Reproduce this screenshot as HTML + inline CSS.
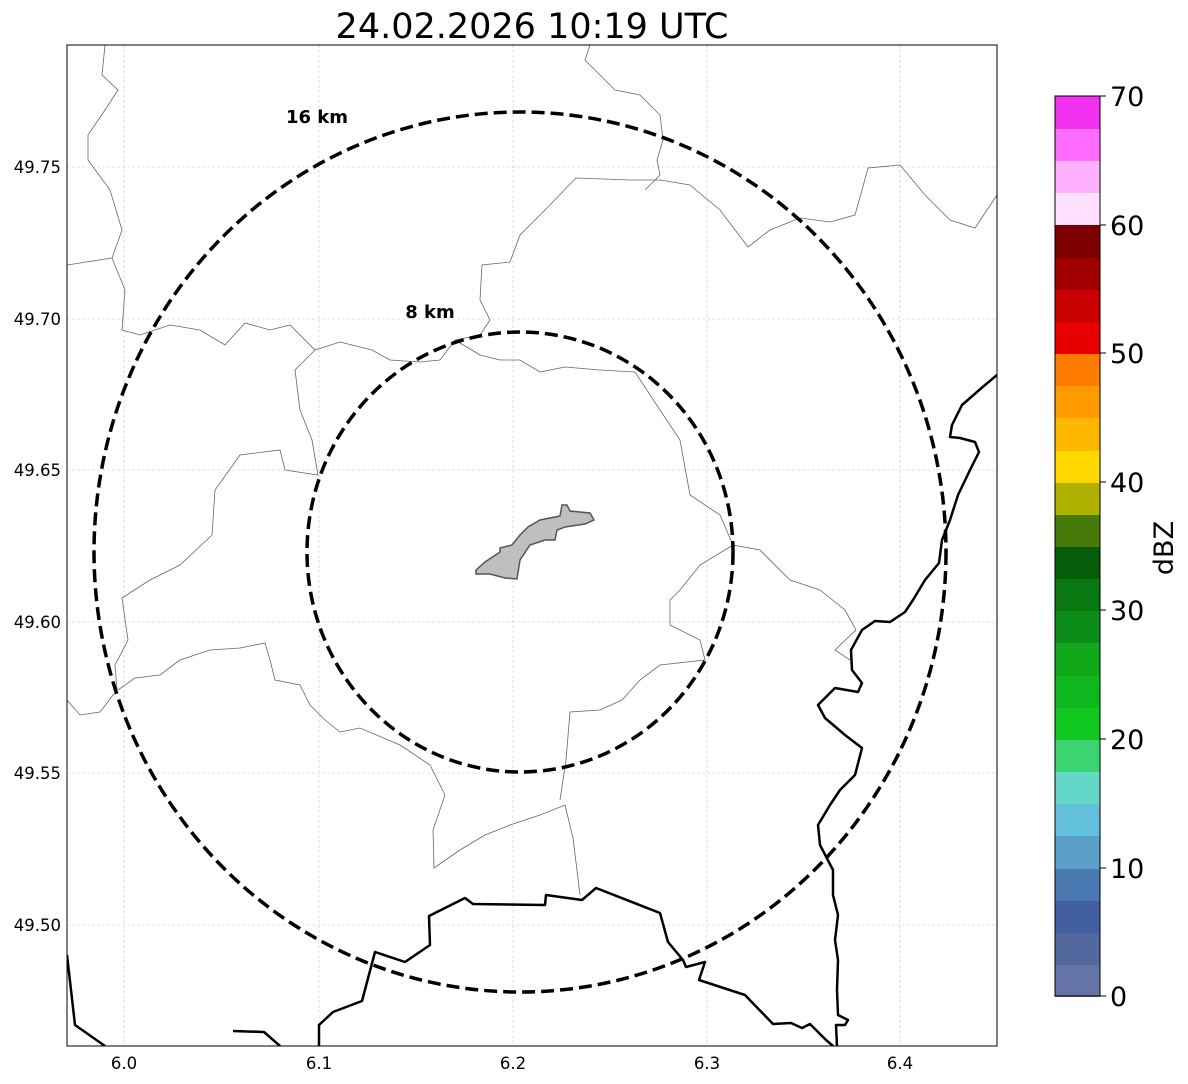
<!DOCTYPE html><html><head><meta charset="utf-8"><style>body{margin:0;background:#fff}svg{display:block}</style></head><body>
<svg width="1188" height="1084" xmlns="http://www.w3.org/2000/svg" font-family="DejaVu Sans, Liberation Sans, sans-serif">
<rect width="1188" height="1084" fill="#fff"/>
<text x="532" y="38" font-size="35" text-anchor="middle">24.02.2026 10:19 UTC</text>
<defs><clipPath id="c"><rect x="67" y="45" width="930" height="1001"/></clipPath></defs>
<g stroke="#c8c8c8" stroke-width="0.6" stroke-dasharray="3,2">
<line x1="124" y1="45" x2="124" y2="1046"/><line x1="319" y1="45" x2="319" y2="1046"/><line x1="513" y1="45" x2="513" y2="1046"/><line x1="707" y1="45" x2="707" y2="1046"/><line x1="900" y1="45" x2="900" y2="1046"/>
<line x1="67" y1="167" x2="997" y2="167"/><line x1="67" y1="319" x2="997" y2="319"/><line x1="67" y1="470" x2="997" y2="470"/><line x1="67" y1="622" x2="997" y2="622"/><line x1="67" y1="773" x2="997" y2="773"/><line x1="67" y1="925" x2="997" y2="925"/>
</g>
<g clip-path="url(#c)" fill="none">
<g stroke="#666" stroke-width="0.8">
<polyline points="105,45 102,75 118,90 105,110 88,135 88,160 110,190 122,230 112,258 67,265"/>
<polyline points="112,258 125,290 122,330 140,335 170,325 200,330 225,345 245,323 270,330 290,325 315,350 340,342 372,350 390,360 420,362 440,360 455,340 480,335 490,320 480,300 482,265 510,262 520,235 545,210 576,178 630,180 660,180 690,185 720,210 748,247 770,230 800,218 830,222 855,215 862,190 868,168 900,165 925,195 950,220 975,228 997,195"/>
<polyline points="315,350 295,370 300,410 312,440 318,475 285,470 280,450 240,455 215,490 212,535 180,565 150,580 122,598 128,640 115,665 117,690 100,712 80,715 67,700"/>
<polyline points="118,690 135,678 160,675 180,660 210,650 240,648 265,643 270,660 275,680 300,685 310,705 325,720 340,732 360,728 400,745 430,765 445,795 433,830 434,868 460,850 485,835 510,825 540,815 565,805 573,838 580,895"/>
<polyline points="540,372 565,367 600,370 635,372 660,410 680,440 690,495 720,515 733,545 760,550 790,580 820,590 845,610 856,630 835,650 850,660"/>
<polyline points="733,545 700,565 680,590 670,600 670,625 700,640 705,660 660,665 640,680 622,700 600,710 570,712 566,760 560,800"/>
<polyline points="590,45 585,60 600,75 615,90 640,95 660,115 663,140 657,160 660,175 645,190"/>
<polyline points="455,340 480,355 500,360 520,360 540,372"/>
</g>
<g stroke="#000" stroke-width="2.5" stroke-linejoin="round">
<polyline points="67,955 75,1025 105,1046"/>
<polyline points="233,1031 264,1032 280,1046"/>
<polyline points="319,1046 319,1025 333,1012 362,1001 375,952 405,962 430,945 429,916 465,898 473,904 545,905 546,895 582,900 596,888 660,913 668,942 683,960 686,967 705,962 699,980 745,995 773,1024 791,1023 802,1028 810,1024 826,1040 833,1046"/>
<polyline points="997,375 985,385 962,405 952,425 950,437 960,438 975,442 979,452 970,470 958,495 950,520 942,540 939,563 925,580 913,600 905,612 890,622 875,621 862,630 851,650 852,670 862,683 858,692 835,688 818,705 825,718 845,735 862,748 855,775 840,790 830,805 818,825 820,845 833,870 833,895 838,915 835,940 838,960 837,990 838,1015 848,1020 845,1025 836,1025 837,1046"/>
</g>
<polygon points="476,570 485,562 500,552 500,548 512,545 520,535 528,527 540,520 555,517 560,516 562,505 567,505 570,511 590,513 594,520 585,524 565,527 557,530 555,540 545,540 530,545 520,560 517,579 505,578 490,574 476,574" fill="#bfbfbf" stroke="#555" stroke-width="1.5"/>
<g stroke="#000" stroke-width="3.5" stroke-dasharray="13,6">
<ellipse cx="520" cy="552" rx="426" ry="440"/>
<ellipse cx="520" cy="552" rx="213" ry="220"/>
</g>
</g>
<text x="317" y="123" font-size="18" font-weight="bold" text-anchor="middle">16 km</text>
<text x="430" y="318" font-size="18" font-weight="bold" text-anchor="middle">8 km</text>
<rect x="67" y="45" width="930" height="1001" fill="none" stroke="#000" stroke-width="1"/>
<g font-size="16.5" text-anchor="middle">
<text x="124" y="1069">6.0</text><text x="319" y="1069">6.1</text><text x="513" y="1069">6.2</text><text x="707" y="1069">6.3</text><text x="900" y="1069">6.4</text>
</g>
<g font-size="16.5" text-anchor="end">
<text x="61" y="173">49.75</text><text x="61" y="325">49.70</text><text x="61" y="476">49.65</text><text x="61" y="628">49.60</text><text x="61" y="779">49.55</text><text x="61" y="931">49.50</text>
</g>
<g>
<rect x="1055" y="964" width="45" height="33" fill="#6473a8"/>
<rect x="1055" y="932" width="45" height="33" fill="#53689e"/>
<rect x="1055" y="900" width="45" height="33" fill="#4260a0"/>
<rect x="1055" y="868" width="45" height="33" fill="#4a78b0"/>
<rect x="1055" y="836" width="45" height="33" fill="#5aa0c8"/>
<rect x="1055" y="803" width="45" height="33" fill="#62c0dc"/>
<rect x="1055" y="771" width="45" height="33" fill="#64d8c8"/>
<rect x="1055" y="739" width="45" height="33" fill="#3cd470"/>
<rect x="1055" y="707" width="45" height="33" fill="#10c820"/>
<rect x="1055" y="675" width="45" height="33" fill="#10b820"/>
<rect x="1055" y="643" width="45" height="33" fill="#10a818"/>
<rect x="1055" y="610" width="45" height="33" fill="#0c8c18"/>
<rect x="1055" y="578" width="45" height="33" fill="#0a7810"/>
<rect x="1055" y="546" width="45" height="33" fill="#065e0a"/>
<rect x="1055" y="514" width="45" height="33" fill="#487a0a"/>
<rect x="1055" y="482" width="45" height="33" fill="#b0b000"/>
<rect x="1055" y="450" width="45" height="33" fill="#ffd800"/>
<rect x="1055" y="418" width="45" height="33" fill="#ffb800"/>
<rect x="1055" y="385" width="45" height="33" fill="#ff9a00"/>
<rect x="1055" y="353" width="45" height="33" fill="#ff7c00"/>
<rect x="1055" y="321" width="45" height="33" fill="#e80000"/>
<rect x="1055" y="289" width="45" height="33" fill="#c80000"/>
<rect x="1055" y="257" width="45" height="33" fill="#a00000"/>
<rect x="1055" y="225" width="45" height="33" fill="#7c0000"/>
<rect x="1055" y="192" width="45" height="33" fill="#ffe0ff"/>
<rect x="1055" y="160" width="45" height="33" fill="#ffb0ff"/>
<rect x="1055" y="128" width="45" height="33" fill="#ff6cff"/>
<rect x="1055" y="96" width="45" height="33" fill="#f032f0"/>
<rect x="1055" y="96" width="45" height="900" fill="none" stroke="#000" stroke-width="1"/>
</g>
<g stroke="#000" stroke-width="1"><line x1="1100" y1="996" x2="1106" y2="996"/><line x1="1100" y1="868" x2="1106" y2="868"/><line x1="1100" y1="739" x2="1106" y2="739"/><line x1="1100" y1="610" x2="1106" y2="610"/><line x1="1100" y1="482" x2="1106" y2="482"/><line x1="1100" y1="353" x2="1106" y2="353"/><line x1="1100" y1="225" x2="1106" y2="225"/><line x1="1100" y1="96" x2="1106" y2="96"/></g>
<g font-size="27"><text x="1110" y="1006">0</text><text x="1110" y="878">10</text><text x="1110" y="749">20</text><text x="1110" y="620">30</text><text x="1110" y="492">40</text><text x="1110" y="363">50</text><text x="1110" y="235">60</text><text x="1110" y="106">70</text></g>
<text transform="translate(1173,548) rotate(-90)" font-size="27" text-anchor="middle">dBZ</text>
</svg></body></html>
